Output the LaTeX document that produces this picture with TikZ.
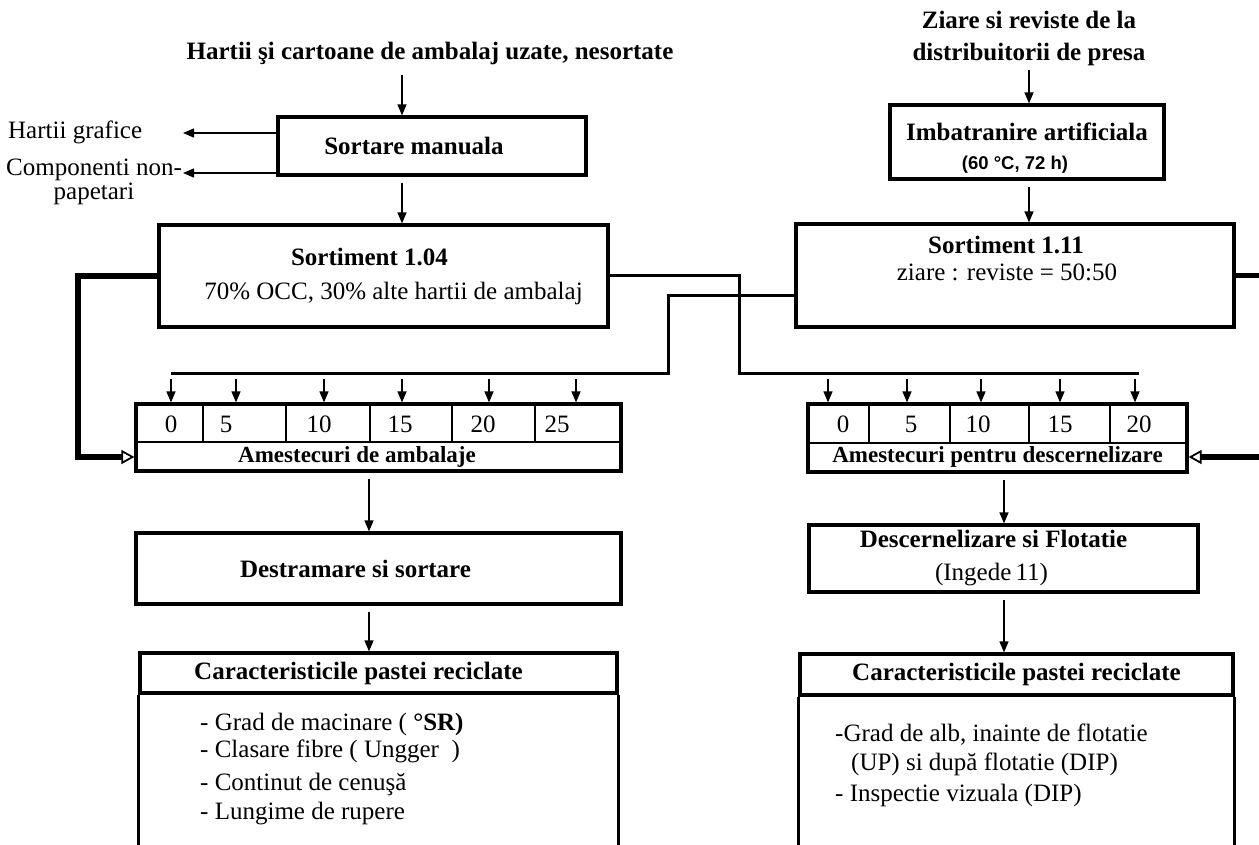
\documentclass[tikz,border=0pt]{standalone}
\usepackage{fontspec}
\setmainfont{Liberation Serif}
\setsansfont{Liberation Sans}
\usetikzlibrary{arrows.meta, positioning}

\begin{document}
\begin{tikzpicture}[x=1pt, y=-1pt,
    font=\fontsize{25}{30}\selectfont,
    box/.style={draw, line width=3.2pt, rectangle, align=center, inner sep=2pt},
    txt/.style={inner sep=0pt, align=center},
    arr/.style={-{Triangle[length=11pt,width=9pt]}, line width=1.4pt, shorten <=6pt},
    feed/.style={line width=3pt},
    sep/.style={line width=2.8pt},
    thickline/.style={line width=5.5pt},
    thickarr/.style={thickline, -{Triangle[open, length=13pt, width=14pt, line width=1.8pt]}},
    mixlbl/.style={font=\fontsize{23}{27}\selectfont\bfseries, inner sep=0pt},
    num/.style={inner sep=0pt}]

  \useasboundingbox (0,0) rectangle (1259,845);

  % axes of the vertical arrows
  \coordinate (axA) at (402,0);
  \coordinate (axB) at (1029,0);
  \coordinate (axC) at (369,0);
  \coordinate (axD) at (1004,0);
  \coordinate (bottom) at (0,845);

  % left column: sorting
  \node[txt, font=\fontsize{25}{30}\selectfont\bfseries] (src1) at (430,53) {Hartii şi cartoane de ambalaj uzate, nesortate};
  \node[box, minimum width=308pt, minimum height=58pt] (sortm) at (432,146) {\textbf{Sortare manuala}\hspace*{36pt}};
  \node[txt, anchor=west] (hgraf) at (8,132) {Hartii grafice};
  \node[txt] (ncomp) at (94,182) {Componenti non-\\[-6pt]papetari};
  \coordinate (outA) at (183,133);
  \coordinate (outB) at (183,173);
  \draw[arr, shorten <=0pt] (sortm.west |- outA) -- (outA);
  \draw[arr, shorten <=0pt] (sortm.west |- outB) -- (outB);
  \draw[arr, shorten <=10pt] (src1.south -| axA) -- (sortm.north -| axA);

  \node[box, minimum width=449pt, minimum height=102pt] (s104) at (383.5,276) {\textbf{Sortiment 1.04}\hspace*{28pt}\\[4pt]\hspace*{20pt}70\% OCC, 30\% alte hartii de ambalaj};
  \draw[arr] (sortm.south -| axA) -- (s104.north -| axA);

  % right column: ageing
  \node[txt, font=\fontsize{25}{30}\selectfont\bfseries] (src2) at (1029,38) {Ziare si reviste de la\\[2pt]distribuitorii de presa};
  \node[box, minimum width=274pt, minimum height=74pt] (imb) at (1027,142) {\rule{0pt}{29pt}\textbf{Imbatranire artificiala}\\[-1pt]{\sffamily\bfseries\fontsize{18.5}{22}\selectfont (60 °C, 72 h)\hspace*{24pt}}};
  \draw[arr, shorten <=4pt] (src2.south -| axB) -- (imb.north -| axB);

  \node[box, minimum width=438pt, minimum height=103pt, text depth=34pt] (s111) at (1015,275.5) {\textbf{Sortiment 1.11}\hspace*{18pt}\\[-3pt]ziare : reviste = 50:50\hspace*{16pt}};
  \draw[arr] (imb.south -| axB) -- (s111.north -| axB);

  % feed lines to the mixtures
  \coordinate (jA) at (739,373);
  \coordinate (endA) at (1139,373);
  \coordinate (jB) at (668,373);
  \coordinate (endB) at (171,373);
  \coordinate (tapB) at (668,296);
  \draw[feed] (s104.east) -| (jA) -- (endA);
  \draw[feed] (s111.west |- tapB) -- (tapB) -- (jB) -- (endB);

  % packaging mixtures
  \node[box, minimum width=485pt, minimum height=67pt] (mixL) at (378.5,437.5) {};
  \coordinate (divL) at (0,442);
  \draw[sep] (mixL.west |- divL) -- (mixL.east |- divL);
  \foreach \x in {203,286,370,452,535}
    \draw[sep] (mixL.north -| \x,0) -- (divL -| \x,0);
  \foreach \x/\v in {171/0,226/5,319/10,400/15,483/20,557/25}
    \node[num] (nL\v) at (\x,424) {\v};
  \node[mixlbl] (lblL) at (357,457) {Amestecuri de ambalaje};
  \foreach \x in {171,236,324,402,489,576}
    \draw[arr] (endB -| \x,0) -- (mixL.north -| \x,0);

  % deinking mixtures
  \node[box, minimum width=379pt, minimum height=68pt] (mixR) at (997.5,438) {};
  \coordinate (divR) at (0,443);
  \draw[sep] (mixR.west |- divR) -- (mixR.east |- divR);
  \foreach \x in {869,950,1029,1110}
    \draw[sep] (mixR.north -| \x,0) -- (divR -| \x,0);
  \foreach \x/\v in {843/0,911/5,978/10,1060/15,1139/20}
    \node[num] (nR\v) at (\x,424) {\v};
  \node[mixlbl] (lblR) at (997.5,457) {Amestecuri pentru descernelizare};
  \foreach \x in {828,907,981,1060,1135}
    \draw[arr] (endA -| \x,0) -- (mixR.north -| \x,0);

  % thick returns
  \coordinate (loopL) at (78,0);
  \coordinate (edgeA) at (1259,275.5);
  \coordinate (edgeB) at (1259,457);
  \draw[thickarr] (s104.west) -| (loopL |- lblL) -- (lblL -| mixL.west);
  \draw[thickline] (s111.east) -- (edgeA);
  \draw[thickarr] (edgeB) -- (lblR -| mixR.east);

  % left column, bottom
  \node[box, minimum width=485pt, minimum height=71pt] (destr) at (378.5,568.5) {\textbf{Destramare si sortare}\hspace*{46pt}};
  \draw[arr] (mixL.south -| axC) -- (destr.north -| axC);
  \node[box, minimum width=477pt, minimum height=40pt] (carL) at (378.5,673) {\textbf{Caracteristicile pastei reciclate}\hspace*{40pt}};
  \draw[arr] (destr.south -| axC) -- (carL.north -| axC);
  \draw[line width=3.2pt] (carL.south west) -- (carL.south west |- bottom);
  \draw[line width=3.2pt] (carL.south east) -- (carL.south east |- bottom);
  \node[txt, anchor=north west, align=left] (listL) at (200,713) {- Grad de macinare ( \textbf{°SR)}\\[-3pt]- Clasare fibre ( Ungger\ \ )\\[3pt]- Continut de cenuşă\\[-1pt]- Lungime de rupere};

  % right column, bottom
  \node[box, minimum width=389pt, minimum height=67pt] (desc) at (1003.5,558.5) {\textbf{Descernelizare si Flotatie}\hspace*{20pt}\\[3pt](Ingede\,11)\hspace*{24pt}};
  \draw[arr] (mixR.south -| axD) -- (desc.north -| axD);
  \node[box, minimum width=433pt, minimum height=41pt] (carR) at (1016.5,674.5) {\textbf{Caracteristicile pastei reciclate}};
  \draw[arr] (desc.south -| axD) -- (carR.north -| axD);
  \draw[line width=3.2pt] (carR.south west) -- (carR.south west |- bottom);
  \draw[line width=3.2pt] (carR.south east) -- (carR.south east |- bottom);
  \node[txt, anchor=north west, align=left] (listR) at (835,724) {-Grad de alb, inainte de flotatie\\[-1pt]\hspace*{16pt}(UP) si după flotatie (DIP)\\[1pt]- Inspectie vizuala (DIP)};
\end{tikzpicture}
\end{document}
